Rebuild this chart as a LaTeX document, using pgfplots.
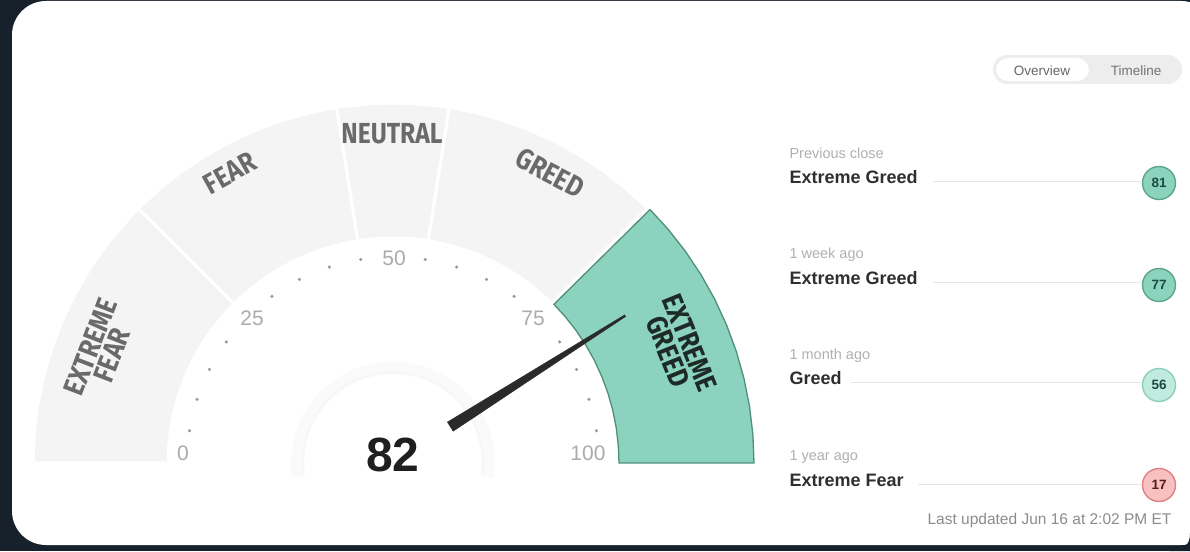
\documentclass[border=0pt]{standalone}
\usepackage{graphicx}
\usepackage{pgfplots}
\pgfplotsset{compat=1.18}
\usepgfplotslibrary{polar}
\usepackage{fontspec}
\setmainfont{Liberation Sans}
\newfontfamily\gaugefont{Fira Sans}
\newcommand{\glab}[1]{\scalebox{0.85}[1]{\gaugefont\bfseries\fontsize{29}{27}\selectfont #1}}
\definecolor{darkbg}{HTML}{16212B}
\definecolor{sector}{HTML}{F4F4F4}
\definecolor{egfill}{HTML}{8BD3BF}
\definecolor{egdraw}{HTML}{4F8F76}
\definecolor{labgray}{HTML}{6A6A6A}
\definecolor{labdark}{HTML}{1E2A25}
\definecolor{tickgray}{HTML}{ABABAB}
\definecolor{dotgray}{HTML}{9A9A9A}
\definecolor{needlec}{HTML}{2A2A2A}
\definecolor{smallgray}{HTML}{B0B0B0}
\definecolor{rowdark}{HTML}{2F2F2F}
\definecolor{hiGfill}{HTML}{8CD3BE}
\definecolor{hiGdraw}{HTML}{5BA58B}
\definecolor{hiGtext}{HTML}{1B4D3E}
\definecolor{mGfill}{HTML}{C2EBDF}
\definecolor{mGdraw}{HTML}{8CCFBC}
\definecolor{fearfill}{HTML}{F7C1C1}
\definecolor{feardraw}{HTML}{E08080}
\definecolor{feartext}{HTML}{5A1A1A}
\begin{document}
\begin{tikzpicture}
\begin{axis}[
  x=1pt, y=1pt,
  xmin=-393, xmax=797, ymin=-88, ymax=463,
  hide axis,
  clip marker paths=true,
]
% background and card
\fill[darkbg] (axis cs:-393,-88) rectangle (axis cs:797,463);
\fill[white, rounded corners=34pt] (axis cs:-381,-82) rectangle (axis cs:822,462);
\fill[darkbg] (axis cs:797,-70) .. controls (axis cs:797,-82) and (axis cs:792,-86) .. (axis cs:776,-88) -- (axis cs:797,-88) -- cycle;

% gauge sectors (angle in degrees = 180 - 1.8*value, radius)
% Extreme Fear 0-25
\addplot[data cs=polar, fill=sector, draw=white, line width=3pt] coordinates {
 (180,360)(175.5,360)(171,360)(166.5,360)(162,360)(157.5,360)(153,360)(148.5,360)(144,360)(139.5,360)(135,360)
 (135,225)(139.5,225)(144,225)(148.5,225)(153,225)(157.5,225)(162,225)(166.5,225)(171,225)(175.5,225)(180,225)(180,360)};
% Fear 25-45
\addplot[data cs=polar, fill=sector, draw=white, line width=3pt] coordinates {
 (135,360)(130.5,360)(126,360)(121.5,360)(117,360)(112.5,360)(108,360)(103.5,360)(99,360)
 (99,225)(103.5,225)(108,225)(112.5,225)(117,225)(121.5,225)(126,225)(130.5,225)(135,225)(135,360)};
% Neutral 45-55
\addplot[data cs=polar, fill=sector, draw=white, line width=3pt] coordinates {
 (99,360)(94.5,360)(90,360)(85.5,360)(81,360)
 (81,225)(85.5,225)(90,225)(94.5,225)(99,225)(99,360)};
% Greed 55-75
\addplot[data cs=polar, fill=sector, draw=white, line width=3pt] coordinates {
 (81,360)(76.5,360)(72,360)(67.5,360)(63,360)(58.5,360)(54,360)(49.5,360)(45,360)
 (45,225)(49.5,225)(54,225)(58.5,225)(63,225)(67.5,225)(72,225)(76.5,225)(81,225)(81,360)};
% Extreme Greed 75-100 (active)
\addplot[data cs=polar, fill=egfill, draw=egdraw, line width=1.3pt] coordinates {
 (44.6,361)(40.5,361)(36,361)(31.5,361)(27,361)(22.5,361)(18,361)(13.5,361)(9,361)(4.5,361)(0,361)
 (0,226)(4.5,226)(9,226)(13.5,226)(18,226)(22.5,226)(27,226)(31.5,226)(36,226)(40.5,226)(44.6,226)(44.6,361)};

% soft ring around the reading
\draw[black!2, line width=12pt] (axis cs:95,-14) arc[start angle=-8, end angle=188, radius=96pt];
\draw[black!3, line width=2.5pt] (axis cs:89,-12) arc[start angle=-8, end angle=188, radius=90pt];

% scale dots every 5 points
\addplot[data cs=polar, only marks, mark=*, mark size=1.4pt, dotgray] coordinates {
 (171,206)(162,206)(153,206)(144,206)(126,206)(117,206)(108,206)(99,206)
 (81,206)(72,206)(63,206)(54,206)(36,206)(27,206)(18,206)(9,206)};

% scale labels
\node[text=tickgray, font=\fontsize{21}{21}\selectfont] at (axis cs:-210,10) {0};
\node[text=tickgray, font=\fontsize{21}{21}\selectfont] at (axis cs:-141,145) {25};
\node[text=tickgray, font=\fontsize{21}{21}\selectfont] at (axis cs:1,205) {50};
\node[text=tickgray, font=\fontsize{21}{21}\selectfont] at (axis cs:140,145) {75};
\node[text=tickgray, font=\fontsize{21}{21}\selectfont] at (axis cs:195,10) {100};

% sector names
\node[text=labgray, rotate=69, inner sep=0pt] at (axis cs:-292,112) {\glab{\shortstack{EXTREME\\FEAR}}};
\node[text=labgray, rotate=29, inner sep=0pt] at (axis cs:-163,290) {\glab{FEAR}};
\node[text=labgray, inner sep=0pt] at (axis cs:-1,329) {\glab{NEUTRAL}};
\node[text=labgray, rotate=-28, inner sep=0pt] at (axis cs:157,290) {\glab{GREED}};
\node[text=labdark, rotate=-68, inner sep=0pt] at (axis cs:286,116) {\glab{\shortstack{EXTREME\\GREED}}};

% needle at 82  (angle 180-1.8*82 = 32.4)
\addplot[data cs=polar, fill=needlec, draw=needlec, line width=0.3pt] coordinates {
 (37.0,68)(27.8,68)(32.2,275)(32.6,275)(37.0,68)};

% current reading
\node[text=black!88, font=\bfseries\fontsize{48}{48}\selectfont] at (axis cs:0,8) {82};

% Overview / Timeline toggle
\fill[black!7, rounded corners=14.5pt] (axis cs:600,379) rectangle (axis cs:789,408);
\fill[white, rounded corners=12pt] (axis cs:603,382) rectangle (axis cs:696,405);
\node[text=black!60, font=\fontsize{13.5}{13.5}\selectfont] at (axis cs:649,392) {Overview};
\node[text=black!55, font=\fontsize{13.5}{13.5}\selectfont] at (axis cs:743,392) {Timeline};

% history rows
\addplot[black!10, line width=0.6pt] coordinates {(540,282)(748,282)};
\addplot[black!10, line width=0.6pt] coordinates {(540,181)(748,181)};
\addplot[black!10, line width=0.6pt] coordinates {(458,81)(748,81)};
\addplot[black!10, line width=0.6pt] coordinates {(525,-21)(748,-21)};

\node[anchor=west, text=smallgray, font=\fontsize{14.5}{14.5}\selectfont] at (axis cs:393,310) {Previous close};
\node[anchor=west, text=rowdark, font=\bfseries\fontsize{18}{18}\selectfont] at (axis cs:393,286) {Extreme Greed};
\node[anchor=west, text=smallgray, font=\fontsize{14.5}{14.5}\selectfont] at (axis cs:393,208) {1 week ago};
\node[anchor=west, text=rowdark, font=\bfseries\fontsize{18}{18}\selectfont] at (axis cs:393,185) {Extreme Greed};
\node[anchor=west, text=smallgray, font=\fontsize{14.5}{14.5}\selectfont] at (axis cs:393,107) {1 month ago};
\node[anchor=west, text=rowdark, font=\bfseries\fontsize{18}{18}\selectfont] at (axis cs:393,85) {Greed};
\node[anchor=west, text=smallgray, font=\fontsize{14.5}{14.5}\selectfont] at (axis cs:393,6) {1 year ago};
\node[anchor=west, text=rowdark, font=\bfseries\fontsize{18}{18}\selectfont] at (axis cs:393,-17) {Extreme Fear};

\addplot[only marks, mark=*, mark size=16.5pt, mark options={fill=hiGfill, draw=hiGdraw, line width=1.4pt},
  point meta=explicit symbolic, nodes near coords,
  every node near coord/.append style={anchor=center, text=hiGtext, font=\bfseries\fontsize{13.5}{13.5}\selectfont}]
  coordinates {(766,280)[81] (766,178)[77]};
\addplot[only marks, mark=*, mark size=16.5pt, mark options={fill=mGfill, draw=mGdraw, line width=1.4pt},
  point meta=explicit symbolic, nodes near coords,
  every node near coord/.append style={anchor=center, text=hiGtext, font=\bfseries\fontsize{13.5}{13.5}\selectfont}]
  coordinates {(766,78)[56]};
\addplot[only marks, mark=*, mark size=16.5pt, mark options={fill=fearfill, draw=feardraw, line width=1.4pt},
  point meta=explicit symbolic, nodes near coords,
  every node near coord/.append style={anchor=center, text=feartext, font=\bfseries\fontsize{13.5}{13.5}\selectfont}]
  coordinates {(766,-22)[17]};

\node[anchor=east, text=black!45, font=\fontsize{15.5}{15.5}\selectfont] at (axis cs:782,-57) {Last updated Jun 16 at 2:02 PM ET};
\end{axis}
\pgfresetboundingbox
\path[use as bounding box] (current axis.south west) rectangle (current axis.north east);
\end{tikzpicture}
\end{document}
